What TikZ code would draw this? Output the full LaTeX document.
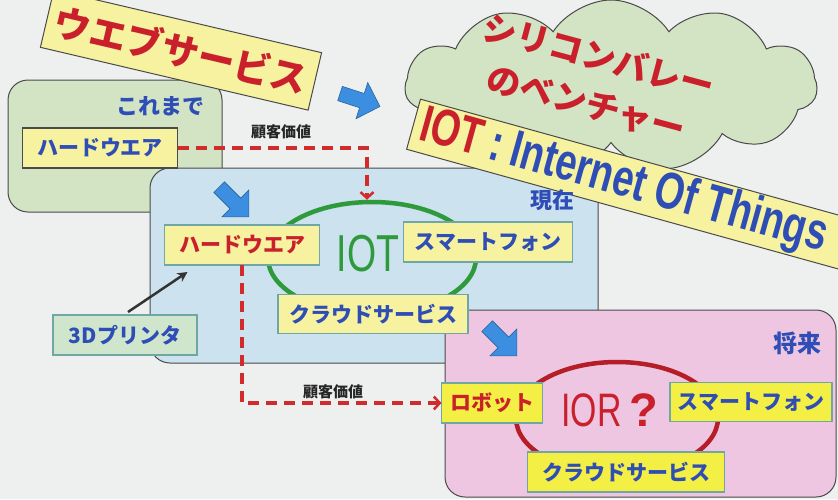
\documentclass[tikz,border=0pt]{standalone}
\usepackage{fontspec}
\setmainfont{Liberation Sans}
\newfontfamily\jp{Noto Sans CJK JP}
\newfontfamily\narrow{Liberation Sans}[FakeStretch=0.72]
\newfontfamily\narrowb{Liberation Sans Bold}[FakeStretch=0.73]
\usetikzlibrary{shapes.symbols,shapes.geometric,arrows.meta}
\definecolor{bg}{HTML}{EEF0EF}
\definecolor{gbox}{HTML}{D3E4C5}
\definecolor{bbox}{HTML}{CCE2EE}
\definecolor{pbox}{HTML}{EEC6E2}
\definecolor{ylw}{HTML}{F6F2A0}
\definecolor{ylw2}{HTML}{F3EF45}
\definecolor{tl}{HTML}{6FA6A6}
\definecolor{jblue}{HTML}{2E4DB5}
\definecolor{jred}{HTML}{C9202B}
\definecolor{jgreen}{HTML}{2E9A3C}
\definecolor{ablue}{HTML}{3C8FE0}
\definecolor{dred}{HTML}{D22B2B}
\definecolor{pgreen}{HTML}{D0E6CC}
\definecolor{edge}{HTML}{4A4A4A}
\tikzset{
  region/.style={draw=edge, line width=1pt, rounded corners=20pt, inner sep=0pt, outer sep=0pt},
  ybox/.style={draw=tl, line width=1.2pt, fill=ylw, inner sep=0pt, outer sep=0pt, minimum height=40pt,
    font=\jp\bfseries\fontsize{21}{21}\selectfont, text=jblue},
  lab/.style={inner sep=0pt, font=\jp\bfseries\fontsize{22}{22}\selectfont, text=jblue},
  small/.style={inner sep=0pt, font=\jp\bfseries\fontsize{15}{15}\selectfont, text=black!85},
  banner/.style={draw=edge, line width=1pt, fill=ylw, inner sep=0pt, outer sep=0pt},
  dline/.style={draw=dred, line width=3.5pt, dash pattern=on 11pt off 7pt, -{Straight Barb[length=6pt,width=13pt,line width=2.5pt]}},
  barrow/.pic={\path[fill=ablue, draw=ablue!70!black, line width=0.6pt]
     (-21,-7.5) -- (2,-7.5) -- (2,-19) -- (21,0) -- (2,19) -- (2,7.5) -- (-21,7.5) -- cycle;},
}
\begin{document}
\begin{tikzpicture}[x=1pt,y=-1pt]
\useasboundingbox (0,0) rectangle (838,499);
\clip (0,0) rectangle (838,499);
\fill[bg] (0,0) rectangle (838,499);

% regions
\node[region, fill=gbox, minimum width=214pt, minimum height=132pt] (past) at (115,146) {};
\node[cloud, cloud puffs=11, cloud puff arc=115, aspect=2.5, draw=edge, line width=1pt,
      fill=gbox, minimum width=412pt, minimum height=172pt, inner sep=0pt] (cloud) at (611,86) {};
\node[banner, rotate=-13.2, minimum width=275pt, minimum height=59pt,
      font=\jp\bfseries\fontsize{37}{37}\selectfont, text=jred] (web) at (181,50) {ウエブサービス};
\node[region, fill=bbox, minimum width=448pt, minimum height=195pt] (now) at (374,265.5) {};
\node[region, fill=pbox, minimum width=391pt, minimum height=187pt] (future) at (640.5,403.5) {};

% cloud text
\node[rotate=-15, inner sep=0pt, font=\jp\bfseries\fontsize{34}{34}\selectfont, text=jred] (sv1) at (599,56) {シリコンバレー};
\node[rotate=-15, inner sep=0pt, font=\jp\bfseries\fontsize{34}{34}\selectfont, text=jred] (sv2) at (586,104) {のベンチャー};

% IOT banner
\node[banner, rotate=-15.5, minimum width=470pt, minimum height=52pt] (iotb) at (640,187) {};
\node[rotate=-15.5, anchor=west, inner sep=0pt, font=\narrowb\fontsize{52}{52}\selectfont] (iott)
   at ([xshift=7pt,yshift=-2pt]iotb.west)
   {\textcolor{jred}{IOT}\hspace{9pt}\textcolor{jblue}{:\hspace{9pt}Internet Of Things}};

% labels
\node[lab] (lpast) at (160,106) {これまで};
\node[lab] (lnow) at (552,200) {現在};
\node[lab, font=\jp\bfseries\fontsize{24}{24}\selectfont] (lfut) at (797,343) {将来};
\node[small] (cv1) at (281,132) {顧客価値};
\node[small] (cv2) at (333,392) {顧客価値};

% ellipses
\node[ellipse, draw=jgreen, line width=4.5pt, minimum width=208pt, minimum height=112pt, inner sep=0pt] (eg) at (372,258) {};
\node[ellipse, draw=jred!90!black, line width=4.5pt, minimum width=202pt, minimum height=112pt, inner sep=0pt] (er) at (617,418) {};
\node[inner sep=0pt, font=\narrow\fontsize{52}{52}\selectfont, text=jgreen] (iot) at (368,254) {IOT};
\node[inner sep=0pt, font=\narrow\fontsize{47}{47}\selectfont, text=jred] (ior) at (610,410) {IOR\hspace{8pt}{\rmfamily\bfseries ?}};

% boxes
\node[ybox, draw=edge, minimum width=155pt] (hw1) at (100,148) {ハードウエア};
\node[ybox, minimum width=155pt, text=jred] (hw2) at (242,245) {ハードウエア};
\node[ybox, minimum width=169pt] (sp1) at (488,242) {スマートフォン};
\node[ybox, minimum width=190pt, minimum height=39pt] (cl1) at (373,314) {クラウドサービス};
\node[ybox, fill=pgreen, minimum width=144pt] (pr) at (125,335) {3Dプリンタ};
\node[ybox, fill=ylw2, minimum width=101pt, text=jred] (rb) at (492,403) {ロボット};
\node[ybox, fill=ylw2, minimum width=162pt, minimum height=39pt] (sp2) at (751,402) {スマートフォン};
\node[ybox, fill=ylw2, minimum width=197pt] (cl2) at (626,472) {クラウドサービス};

% connectors
\draw[dline] (hw1.east) -| ([xshift=-5pt]eg.north);
\draw[dline] (hw2.south) |- (rb.west);
\draw[line width=2.5pt, draw=black!80, -{Stealth[length=10pt,width=10pt]}] ([xshift=3pt,yshift=3pt]pr.north) -- ([xshift=23pt,yshift=-7pt]hw2.south west);

% blue block arrows
\pic[rotate=-18] at (360,100) {barrow};
\pic[rotate=-45] at (234,202) {barrow};
\pic[rotate=-45] at (502,341) {barrow};
\end{tikzpicture}
\end{document}
